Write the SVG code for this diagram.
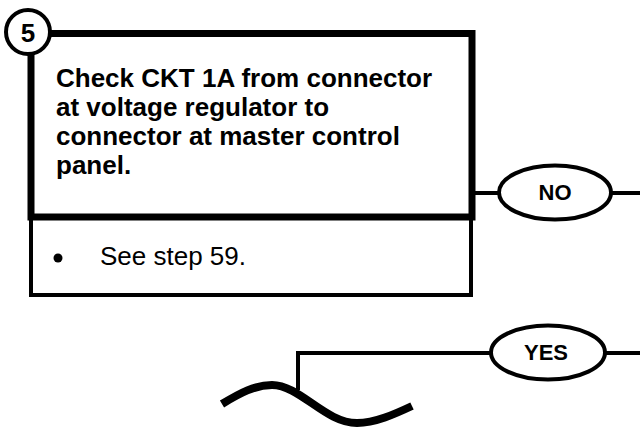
<svg xmlns="http://www.w3.org/2000/svg" width="640" height="430" viewBox="0 0 640 430">
<style>
.bold{font-family:"Liberation Sans",Arial,sans-serif;font-weight:bold;fill:#000}
.reg{font-family:"Liberation Sans",Arial,sans-serif;fill:#000}
.thin{fill:none;stroke:#000;stroke-width:4}
.thick{fill:none;stroke:#000;stroke-width:8}
.oval{fill:#fff;stroke:#000;stroke-width:4}
</style>
<rect width="640" height="430" fill="#fff"/>
<g id="connectors">
<line class="thin" x1="475" y1="193" x2="640" y2="193"/>
<polyline class="thin" points="298,390 298,353 640,353"/>
<path class="thick" d="M222,404 C240,393 255,385 272,385 C300,385 325,423 357,423 C375,423 395,414 412,406"/>
</g>
<g id="step5">
<rect class="thin" x="31" y="217" width="440" height="78"/>
<rect x="31" y="33.5" width="441" height="183.5" fill="#fff" stroke="#000" stroke-width="7"/>
<circle cx="28" cy="32" r="22" fill="#fff" stroke="#000" stroke-width="4"/>
<text class="bold" x="28" y="41.5" font-size="26" text-anchor="middle">5</text>
<text class="bold" font-size="26">
<tspan x="56" y="87">Check CKT 1A from connector</tspan>
<tspan x="56" y="116">at voltage regulator to</tspan>
<tspan x="56" y="145">connector at master control</tspan>
<tspan x="56" y="174">panel.</tspan>
</text>
<circle cx="58" cy="258" r="4.5" fill="#000"/>
<text class="reg" x="100" y="265" font-size="26">See step 59.</text>
</g>
<g id="no">
<ellipse class="oval" cx="555" cy="192.5" rx="56" ry="27"/>
<text class="bold" x="555" y="200" font-size="22" text-anchor="middle">NO</text>
</g>
<g id="yes">
<ellipse class="oval" cx="548" cy="352.5" rx="57" ry="27"/>
<text class="bold" x="546" y="360" font-size="22" text-anchor="middle">YES</text>
</g>
</svg>
